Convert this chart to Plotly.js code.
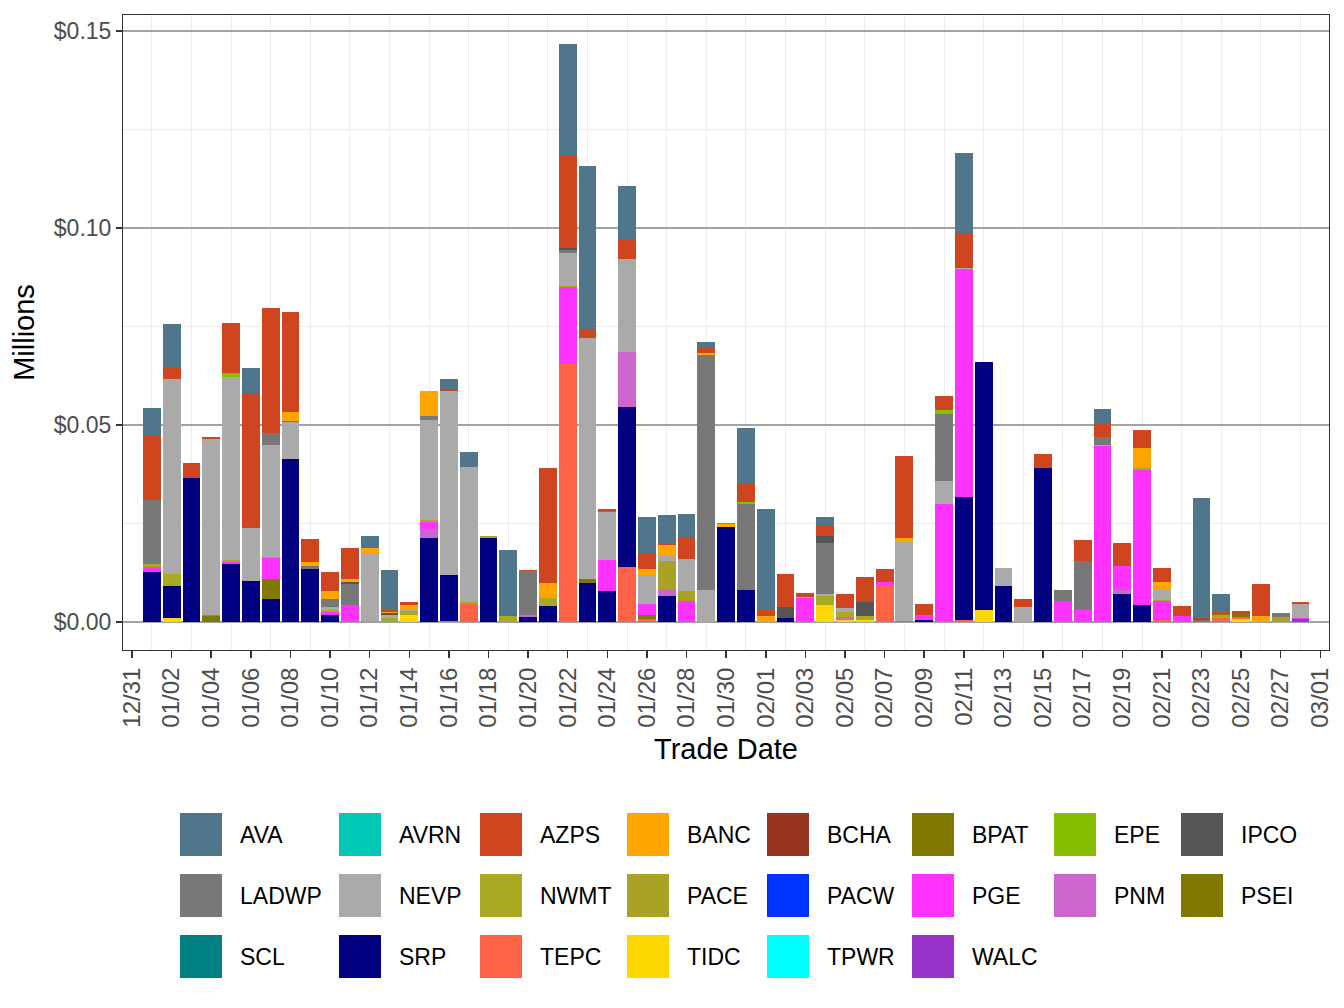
<!DOCTYPE html>
<html>
<head>
<meta charset="utf-8">
<script src="https://cdn.plot.ly/plotly-3.0.1.min.js"></script>
<style>
  body { margin: 0; background: #fff; }
  #chart { width: 1344px; height: 1008px; }
</style>
</head>
<body>
<div id="chart"></div>
<script>
// one bar per trade date
const tradeDates = [
  '2023-01-01', '2023-01-02', '2023-01-03', '2023-01-04', '2023-01-05', '2023-01-06', '2023-01-07', '2023-01-08', '2023-01-09', '2023-01-10',
  '2023-01-11', '2023-01-12', '2023-01-13', '2023-01-14', '2023-01-15', '2023-01-16', '2023-01-17', '2023-01-18', '2023-01-19', '2023-01-20',
  '2023-01-21', '2023-01-22', '2023-01-23', '2023-01-24', '2023-01-25', '2023-01-26', '2023-01-27', '2023-01-28', '2023-01-29', '2023-01-30',
  '2023-01-31', '2023-02-01', '2023-02-02', '2023-02-03', '2023-02-04', '2023-02-05', '2023-02-06', '2023-02-07', '2023-02-08', '2023-02-09',
  '2023-02-10', '2023-02-11', '2023-02-12', '2023-02-13', '2023-02-14', '2023-02-15', '2023-02-16', '2023-02-17', '2023-02-18', '2023-02-19',
  '2023-02-20', '2023-02-21', '2023-02-22', '2023-02-23', '2023-02-24', '2023-02-25', '2023-02-26', '2023-02-27', '2023-02-28'
];

// legend order (alphabetical), same order as the fill scale
const names = ['AVA', 'AVRN', 'AZPS', 'BANC', 'BCHA', 'BPAT', 'EPE', 'IPCO',
               'LADWP', 'NEVP', 'NWMT', 'PACE', 'PACW', 'PGE', 'PNM', 'PSEI',
               'SCL', 'SRP', 'TEPC', 'TIDC', 'TPWR', 'WALC'];
const colors = ['#4f768a', '#00c8b4', '#cf4520', '#ffa500', '#983522', '#807800', '#86be00', '#555555',
                '#787878', '#aaaaaa', '#aaa922', '#a9a226', '#0033ff', '#ff33ff', '#cc66cc', '#807800',
                '#008080', '#000080', '#ff6347', '#ffd700', '#00ffff', '#9933cc'];

// values in millions of dollars, one per trade date
const AVA = [
  0.0069, 0.0111, 0, 0, 0, 0.0065, 0, 0, 0, 0,
  0, 0.0030, 0.0102, 0, 0, 0.0026, 0.0038, 0, 0.0165, 0,
  0, 0.0283, 0.0413, 0, 0.0137, 0.0091, 0.0074, 0.0059, 0.0016, 0,
  0.0139, 0.0257, 0, 0, 0.0021, 0, 0, 0, 0, 0,
  0, 0.0203, 0, 0, 0, 0, 0, 0, 0.0036, 0,
  0, 0, 0, 0.0305, 0.0046, 0, 0, 0, 0
];
const AVRN = [
  0, 0, 0, 0, 0, 0, 0, 0, 0, 0,
  0, 0, 0, 0, 0, 0, 0, 0, 0, 0,
  0, 0, 0, 0, 0, 0, 0, 0, 0, 0.0003,
  0, 0, 0, 0, 0, 0, 0, 0, 0, 0,
  0, 0, 0, 0, 0, 0, 0, 0, 0, 0,
  0, 0, 0, 0, 0, 0, 0, 0, 0
];
const AZPS = [
  0.0165, 0.0028, 0.0039, 0.0006, 0.0127, 0.0341, 0.0317, 0.0254, 0.0059, 0.0048,
  0.0079, 0, 0.0005, 0.0007, 0, 0.0005, 0, 0, 0.0003, 0.0003,
  0.0291, 0.0235, 0.0024, 0.0005, 0.0048, 0.0041, 0.0002, 0.0055, 0.0012, 0,
  0.0048, 0.0015, 0.0084, 0.0011, 0.0027, 0.0035, 0.0063, 0.0033, 0.0208, 0.0028,
  0.0036, 0.0088, 0, 0, 0.0020, 0.0035, 0, 0.0053, 0.0035, 0.0059,
  0.0045, 0.0035, 0.0026, 0.0002, 0.0002, 0.0008, 0.0081, 0, 0.0005
];
const BANC = [
  0, 0, 0, 0, 0, 0, 0, 0.0023, 0.0010, 0.0021,
  0.0008, 0.0013, 0.0003, 0.0010, 0.0063, 0, 0, 0, 0, 0,
  0.0038, 0, 0, 0, 0, 0.0014, 0.0026, 0, 0.0005, 0.0008,
  0, 0.0015, 0, 0.0002, 0, 0, 0, 0, 0.0010, 0,
  0, 0, 0, 0, 0, 0, 0, 0, 0, 0,
  0.0051, 0.0021, 0, 0, 0, 0, 0.0015, 0, 0
];
const BCHA = [
  0, 0, 0, 0, 0, 0, 0, 0, 0, 0,
  0, 0, 0, 0, 0, 0, 0, 0, 0, 0,
  0, 0, 0, 0, 0, 0, 0, 0, 0, 0,
  0, 0, 0, 0, 0, 0, 0, 0, 0, 0,
  0, 0, 0, 0, 0, 0, 0, 0, 0, 0,
  0, 0, 0, 0, 0, 0, 0, 0, 0
];
const BPAT = [
  0, 0, 0, 0, 0, 0, 0, 0, 0, 0,
  0, 0, 0, 0, 0, 0, 0, 0, 0, 0,
  0, 0, 0, 0, 0, 0, 0, 0, 0, 0,
  0, 0, 0, 0, 0, 0, 0, 0, 0, 0,
  0, 0, 0, 0, 0, 0, 0, 0, 0, 0,
  0, 0, 0, 0, 0.0005, 0, 0, 0, 0
];
const EPE = [
  0, 0, 0, 0, 0.0010, 0, 0, 0, 0, 0,
  0, 0, 0, 0, 0, 0, 0, 0, 0, 0,
  0, 0, 0, 0, 0, 0, 0, 0, 0, 0,
  0.0006, 0, 0, 0, 0, 0, 0, 0, 0, 0,
  0.0010, 0, 0, 0, 0, 0, 0, 0, 0, 0,
  0, 0, 0, 0, 0, 0, 0, 0, 0
];
const IPCO = [
  0, 0, 0, 0, 0, 0, 0, 0, 0, 0,
  0.0005, 0, 0.0004, 0, 0, 0, 0, 0, 0, 0,
  0, 0.0004, 0, 0, 0, 0, 0, 0, 0, 0,
  0, 0, 0.0028, 0, 0.0017, 0, 0.0036, 0, 0, 0,
  0, 0, 0, 0, 0, 0, 0, 0, 0, 0,
  0, 0, 0, 0.0003, 0, 0, 0, 0, 0
];
const LADWP = [
  0.0163, 0, 0, 0, 0, 0, 0.0031, 0.0003, 0.0007, 0.0020,
  0.0053, 0, 0, 0, 0.0010, 0, 0, 0, 0, 0.0111,
  0, 0.0008, 0, 0.0003, 0, 0, 0, 0, 0.0596, 0,
  0.0218, 0, 0, 0, 0.0130, 0, 0, 0, 0, 0,
  0.0170, 0, 0, 0, 0, 0, 0.0028, 0.0125, 0.0021, 0,
  0, 0, 0, 0.0005, 0, 0, 0, 0.0010, 0
];
const NEVP = [
  0, 0.0495, 0, 0.0445, 0.0465, 0.0135, 0.0283, 0.0094, 0, 0.0008,
  0, 0.0172, 0.0008, 0.0005, 0.0254, 0.0467, 0.0342, 0, 0, 0,
  0, 0.0083, 0.0611, 0.0122, 0.0236, 0.0074, 0.0016, 0.0081, 0.0082, 0,
  0, 0, 0, 0, 0.0005, 0.0011, 0, 0, 0.0200, 0,
  0.0059, 0.0003, 0, 0.0046, 0.0038, 0, 0, 0, 0.0002, 0,
  0, 0.0025, 0, 0, 0, 0, 0, 0, 0.0036
];
const NWMT = [
  0.0007, 0.0031, 0, 0, 0.0005, 0, 0.0003, 0, 0, 0.0005,
  0, 0.0003, 0.0010, 0.0010, 0.0005, 0, 0.0005, 0.0005, 0.0015, 0,
  0.0020, 0.0004, 0, 0, 0, 0, 0, 0, 0, 0,
  0, 0, 0, 0, 0.0023, 0.0012, 0.0010, 0, 0, 0,
  0, 0, 0, 0, 0, 0, 0, 0, 0, 0,
  0.0005, 0.0003, 0, 0, 0.0008, 0, 0, 0, 0
];
const PACE = [
  0, 0, 0, 0, 0, 0, 0, 0, 0, 0,
  0, 0, 0, 0, 0, 0, 0, 0, 0, 0,
  0, 0, 0, 0, 0, 0, 0.0071, 0.0026, 0, 0,
  0, 0, 0, 0, 0, 0, 0, 0, 0, 0,
  0, 0, 0, 0, 0, 0, 0, 0, 0, 0,
  0, 0, 0, 0, 0, 0, 0, 0.0013, 0
];
const PACW = [
  0, 0, 0, 0, 0, 0, 0, 0, 0, 0,
  0, 0, 0, 0, 0, 0, 0, 0, 0, 0,
  0, 0, 0, 0, 0, 0, 0, 0, 0, 0,
  0, 0, 0, 0, 0, 0, 0, 0, 0, 0,
  0, 0, 0, 0, 0, 0, 0, 0, 0, 0,
  0, 0, 0, 0, 0, 0, 0, 0, 0
];
const PGE = [
  0.0013, 0, 0, 0.0003, 0.0005, 0, 0.0054, 0, 0, 0.0007,
  0.0043, 0, 0, 0, 0.0018, 0, 0, 0, 0, 0,
  0, 0.0195, 0, 0.0078, 0, 0.0029, 0, 0.0053, 0, 0,
  0, 0, 0, 0.0061, 0, 0, 0, 0.0008, 0.0003, 0.0013,
  0.0296, 0.0579, 0, 0, 0, 0, 0.0053, 0.0030, 0.0447, 0.0061,
  0.0343, 0.0048, 0.0015, 0, 0, 0, 0, 0, 0.0002
];
const PNM = [
  0, 0, 0, 0, 0, 0, 0, 0, 0, 0,
  0, 0, 0, 0, 0.0023, 0, 0, 0, 0, 0.0005,
  0, 0, 0, 0, 0.0139, 0, 0.0017, 0, 0, 0,
  0, 0, 0, 0, 0, 0.0008, 0, 0, 0, 0,
  0, 0, 0, 0, 0, 0, 0, 0, 0, 0.0010,
  0, 0, 0, 0, 0, 0, 0, 0, 0
];
const PSEI = [
  0, 0, 0, 0.0016, 0, 0, 0.0051, 0, 0, 0,
  0, 0, 0, 0, 0, 0, 0, 0, 0, 0,
  0, 0, 0.0010, 0, 0, 0.0009, 0, 0, 0, 0,
  0, 0, 0, 0, 0, 0, 0, 0, 0, 0,
  0, 0, 0, 0, 0, 0, 0, 0, 0, 0,
  0, 0, 0, 0, 0, 0.0007, 0, 0, 0
];
const SCL = [
  0, 0, 0, 0, 0, 0, 0, 0, 0, 0,
  0, 0, 0, 0, 0, 0, 0, 0, 0, 0,
  0, 0, 0, 0, 0, 0, 0, 0, 0, 0,
  0, 0, 0, 0, 0, 0, 0, 0, 0, 0,
  0, 0, 0, 0, 0, 0, 0, 0, 0, 0,
  0, 0, 0, 0, 0, 0, 0, 0, 0
];
const SRP = [
  0.0127, 0.0080, 0.0365, 0, 0.0147, 0.0104, 0.0058, 0.0414, 0.0135, 0.0018,
  0, 0, 0, 0, 0.0213, 0.0116, 0, 0.0213, 0, 0.0013,
  0.0041, 0, 0.0099, 0.0079, 0.0406, 0, 0.0066, 0, 0, 0.0241,
  0.0081, 0, 0.0010, 0, 0, 0, 0, 0, 0, 0.0005,
  0, 0.0313, 0.0630, 0.0091, 0, 0.0391, 0, 0, 0, 0.0071,
  0.0043, 0, 0, 0, 0, 0, 0, 0, 0
];
const TEPC = [
  0, 0, 0, 0, 0, 0, 0, 0, 0, 0,
  0, 0, 0, 0, 0, 0.0003, 0.0046, 0, 0, 0,
  0, 0.0654, 0, 0, 0.0140, 0.0008, 0, 0, 0, 0,
  0, 0, 0, 0, 0, 0, 0, 0.0094, 0, 0,
  0.0003, 0.0004, 0, 0, 0, 0, 0, 0, 0, 0,
  0, 0.0005, 0, 0, 0.0010, 0.0005, 0, 0, 0
];
const TIDC = [
  0, 0.0011, 0, 0, 0, 0, 0, 0, 0, 0,
  0, 0, 0, 0.0018, 0, 0, 0, 0, 0, 0,
  0, 0, 0, 0, 0, 0, 0, 0, 0, 0,
  0, 0, 0, 0, 0.0043, 0.0005, 0.0005, 0, 0, 0,
  0, 0, 0.0030, 0, 0, 0, 0, 0, 0, 0,
  0, 0, 0, 0, 0, 0.0008, 0, 0, 0
];
const TPWR = [
  0, 0, 0, 0, 0, 0, 0, 0, 0, 0,
  0, 0, 0, 0, 0, 0, 0, 0, 0, 0,
  0, 0, 0, 0, 0, 0, 0, 0, 0, 0,
  0, 0, 0, 0, 0, 0, 0, 0, 0, 0,
  0, 0, 0, 0, 0, 0, 0, 0, 0, 0,
  0, 0, 0, 0, 0, 0, 0, 0, 0
];
const WALC = [
  0, 0, 0, 0, 0, 0, 0, 0, 0, 0,
  0, 0, 0, 0, 0, 0, 0, 0, 0, 0,
  0, 0, 0, 0, 0, 0, 0, 0, 0, 0,
  0, 0, 0, 0, 0, 0, 0, 0, 0, 0,
  0, 0, 0, 0, 0, 0, 0, 0, 0, 0,
  0, 0, 0, 0, 0, 0, 0, 0, 0.0008
];

const seriesValues = {
  AVA: AVA, AVRN: AVRN, AZPS: AZPS, BANC: BANC, BCHA: BCHA, BPAT: BPAT, EPE: EPE, IPCO: IPCO,
  LADWP: LADWP, NEVP: NEVP, NWMT: NWMT, PACE: PACE, PACW: PACW, PGE: PGE, PNM: PNM, PSEI: PSEI,
  SCL: SCL, SRP: SRP, TEPC: TEPC, TIDC: TIDC, TPWR: TPWR, WALC: WALC
};

const DAY = 86400000;
const FONT = 'Liberation Sans, Arial, Helvetica, sans-serif';

// first level sits on top of the stack, so push traces bottom-up
let traces = [];
for (let k = names.length - 1; k >= 0; k--) {
  traces.push({
    type: 'bar',
    name: names[k],
    x: tradeDates,
    y: seriesValues[names[k]],
    width: 0.9 * DAY,
    marker: { color: colors[k], line: { width: 0 } },
    showlegend: false
  });
}

// plot panel in pixels, used to place the hand-made legend below it
const panelLeft = 123, panelWidth = 1206, panelBottom = 650, panelHeight = 635;
const px2x = px => (px - panelLeft) / panelWidth;
const px2y = py => (panelBottom - py) / panelHeight;

const legendCols = [180, 339, 480, 627, 767, 912, 1054, 1181];
const legendRows = [813, 874, 935];
const keyW = 42, keyH = 43, labelGap = 58;

let shapes = [];
let annotations = [];
names.forEach((nm, k) => {
  let col = k % legendCols.length;
  let row = Math.floor(k / legendCols.length);
  let left = legendCols[col], top = legendRows[row];
  shapes.push({
    type: 'rect', xref: 'paper', yref: 'paper', layer: 'above',
    x0: px2x(left), x1: px2x(left + keyW),
    y0: px2y(top + keyH), y1: px2y(top),
    fillcolor: colors[k], line: { width: 0 }
  });
  annotations.push({
    xref: 'paper', yref: 'paper', showarrow: false,
    x: px2x(left + labelGap), y: px2y(top + keyH / 2),
    xanchor: 'left', yanchor: 'middle',
    text: nm, font: { family: FONT, size: 23, color: '#000' }
  });
});

var layout = {
  width: 1344,
  height: 1008,
  margin: { l: panelLeft, r: 1344 - panelLeft - panelWidth, t: 15, b: 1008 - panelBottom },
  paper_bgcolor: '#fff',
  plot_bgcolor: '#fff',
  barmode: 'stack',
  font: { family: FONT },
  xaxis: {
    type: 'date',
    range: ['2022-12-30 13:05', '2023-03-01 10:33'],
    tick0: '2022-12-31',
    dtick: 2 * DAY,
    tickformat: '%m/%d',
    tickangle: -90,
    tickfont: { family: FONT, size: 24, color: '#4d4d4d' },
    ticks: 'outside', ticklen: 7, tickwidth: 1.5, tickcolor: '#333',
    showgrid: false,
    minor: { tick0: '2023-01-01', dtick: 2 * DAY, showgrid: true, gridcolor: '#ebebeb', gridwidth: 1, ticks: '' },
    showline: true, mirror: true, linecolor: '#333', linewidth: 1,
    zeroline: false,
    title: { text: 'Trade Date', font: { family: FONT, size: 29, color: '#000' }, standoff: 12 }
  },
  yaxis: {
    range: [-0.00711, 0.15406],
    tick0: 0,
    dtick: 0.05,
    tickprefix: '$',
    tickformat: '.2f',
    tickfont: { family: FONT, size: 23, color: '#4d4d4d' },
    ticks: 'outside', ticklen: 6, tickwidth: 1.5, tickcolor: '#333',
    showgrid: true, gridcolor: '#a3a3a3', gridwidth: 1.2,
    minor: { dtick: 0.025, showgrid: true, gridcolor: '#ebebeb', gridwidth: 1, ticks: '' },
    showline: true, mirror: true, linecolor: '#333', linewidth: 1,
    zeroline: false,
    title: { text: 'Millions', font: { family: FONT, size: 29, color: '#000' }, standoff: 10 }
  },
  shapes: shapes,
  annotations: annotations
};

Plotly.newPlot('chart', traces, layout, { displayModeBar: false, staticPlot: true });
</script>
</body>
</html>
